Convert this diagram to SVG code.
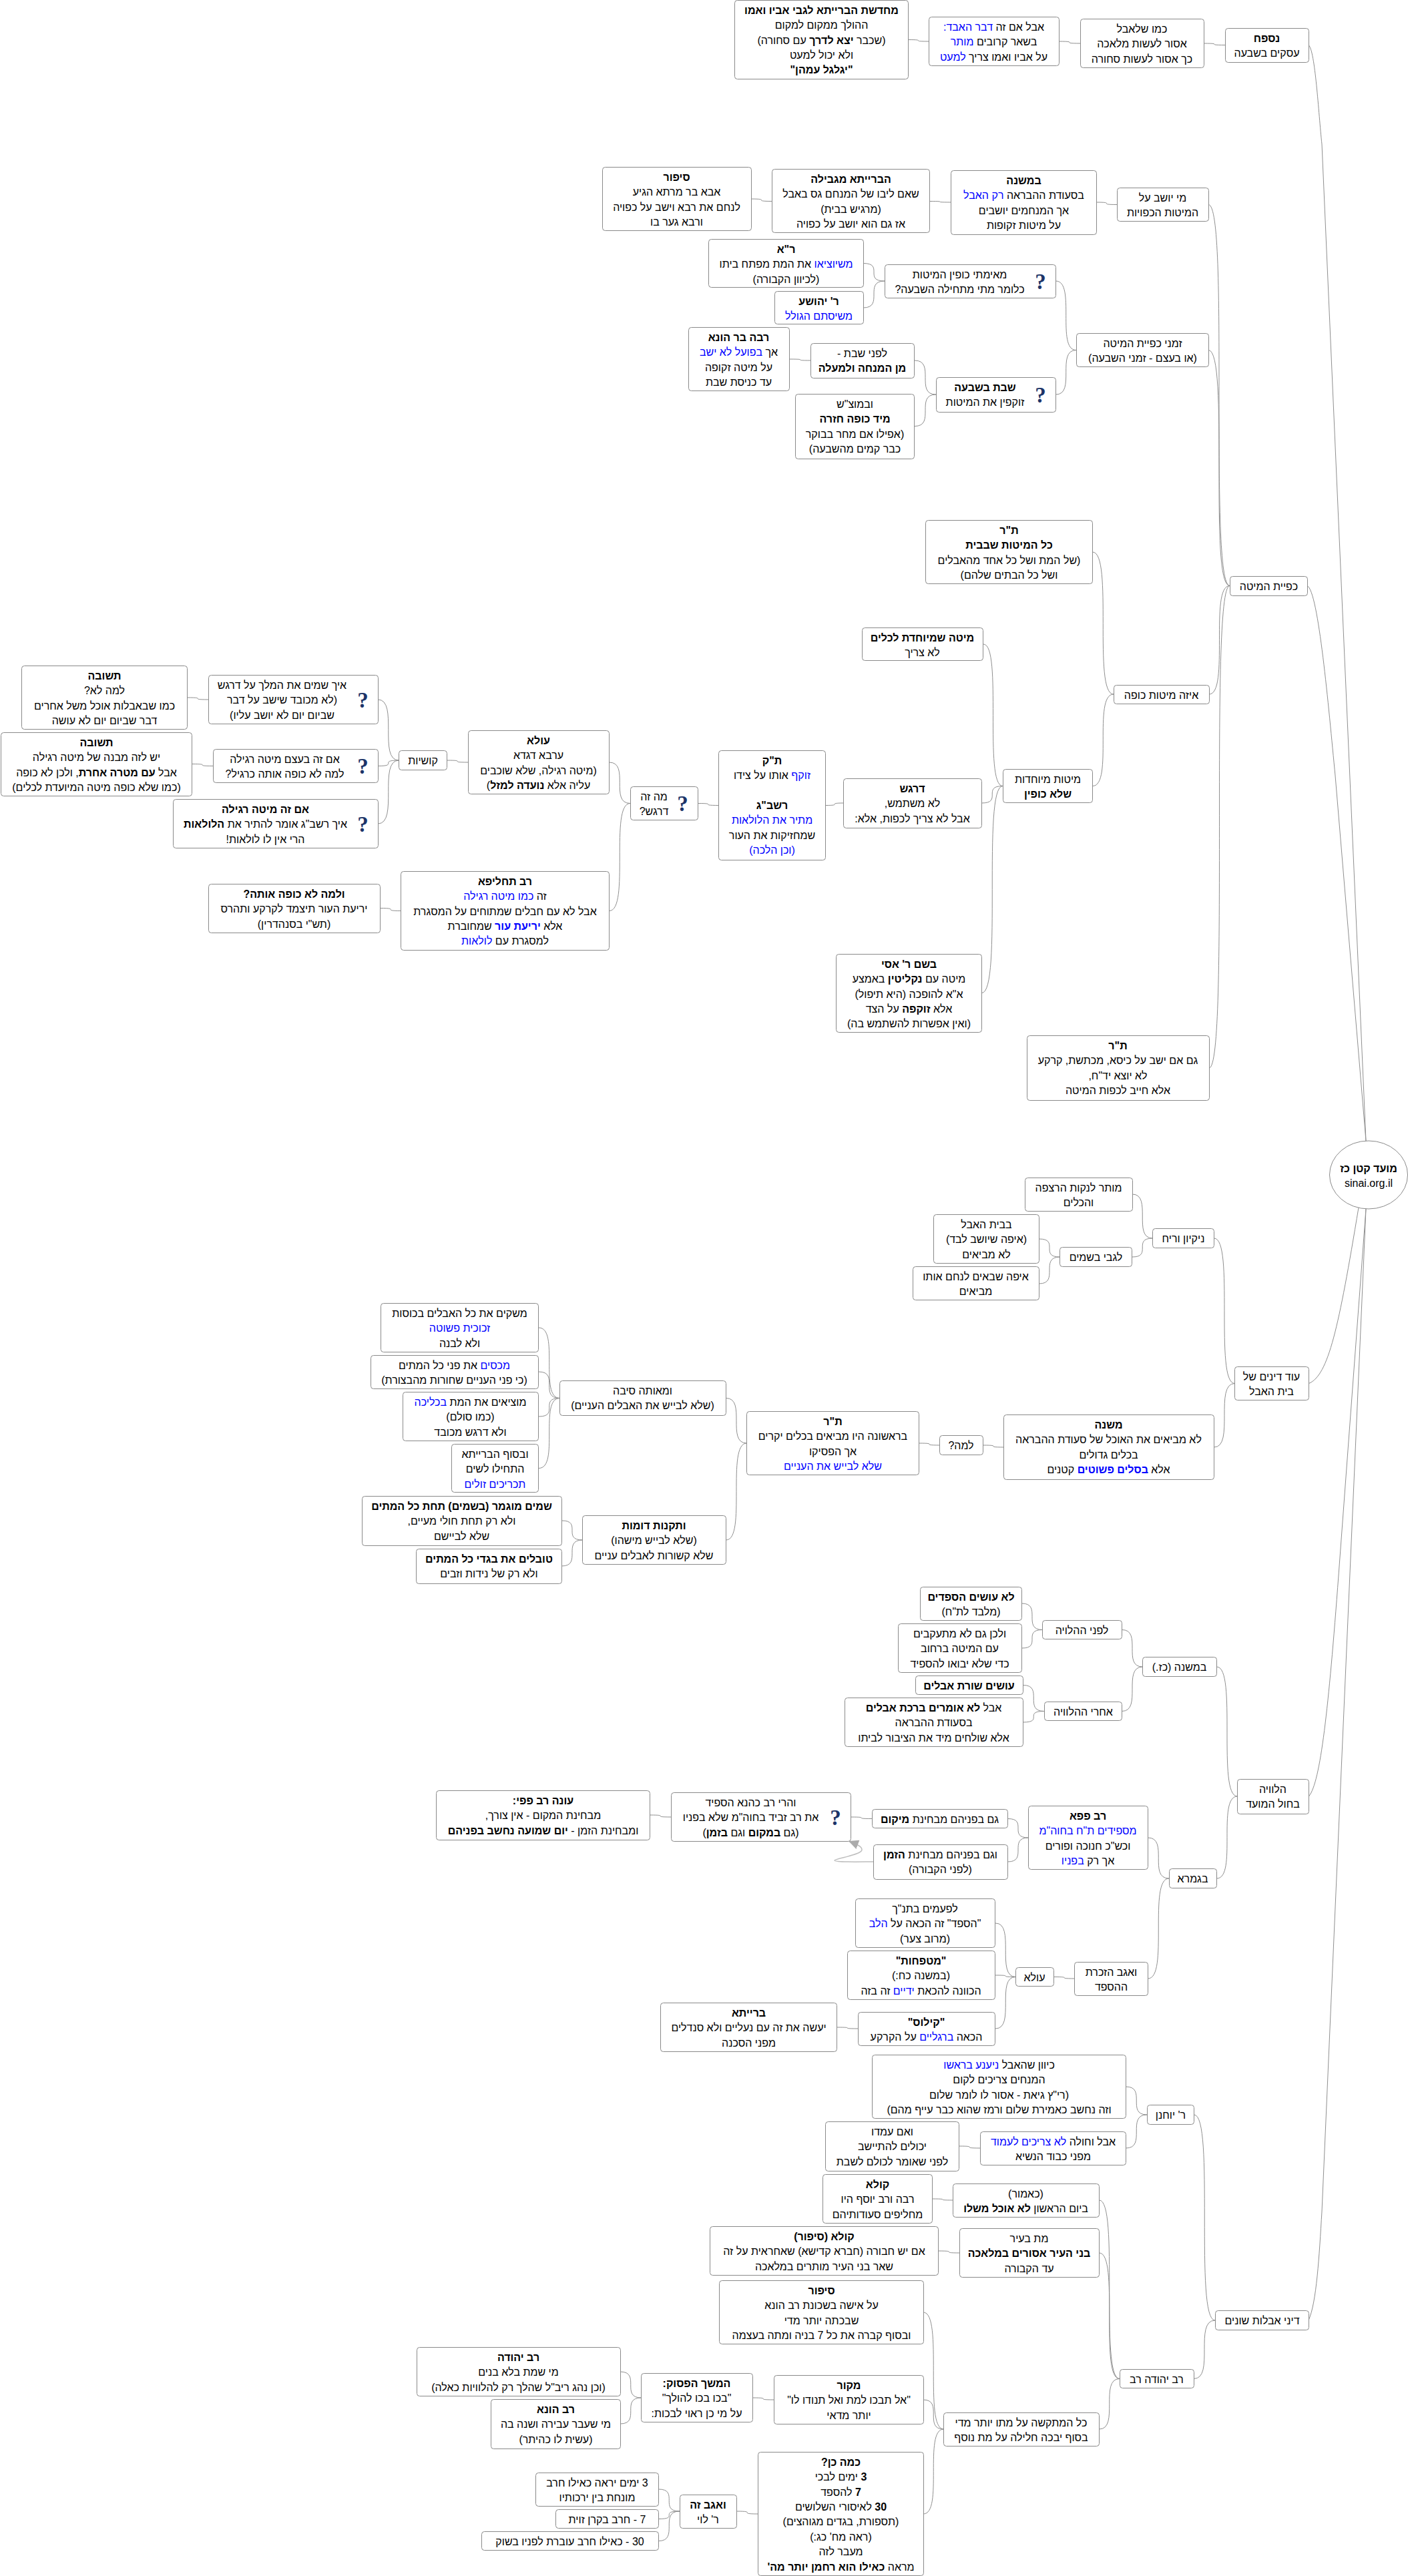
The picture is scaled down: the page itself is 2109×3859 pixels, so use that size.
<svg xmlns="http://www.w3.org/2000/svg" width="2109" height="3859" viewBox="0 0 2109 3859">
<style>
rect.n,ellipse.n{fill:#fff;stroke:#8a8a8a;stroke-width:1}
#connectors path{fill:none;stroke:#8f8f8f;stroke-width:1}
#connectors path.x{stroke:#bdbdbd;stroke-width:1.5}
text{font-family:"Liberation Sans",Arial,sans-serif;font-size:16px;fill:#000;text-anchor:middle;direction:rtl}
.b{font-weight:bold}
.u{fill:#0000ff}
text.q{font-family:"Liberation Serif",serif;font-weight:bold;font-size:33px;fill:#1c3468;direction:ltr}
</style>
<defs>
<marker id="ah" markerUnits="userSpaceOnUse" markerWidth="15" markerHeight="15" viewBox="0 0 15 14" refX="15" refY="7" orient="auto"><path d="M0 0L15 7L0 14Z" fill="#ababab"/></marker>
</defs>
<rect width="2109" height="3859" fill="#fff"/>
<g id="connectors">
<path d="M1960 67.5C1970 75 1975 170 1980 216L2046 1709"/>
<path d="M1958 877.5C1975 885 1990 1060 2000 1162L2046 1709"/>
<path d="M1960.5 2072.5C1990 2060 2005 1990 2035 1809"/>
<path d="M1960.5 2691C1978 2670 1990 2560 2005 2360L2046 1811"/>
<path d="M1960 3476C1972 3450 1976 3380 1980 3313L2046 1811"/>
<path d="M1360 59.5C1391 59.5 1360 62 1391 62"/>
<path d="M1586 62C1618 62 1586 65 1618 65"/>
<path d="M1803 65C1835 65 1803 67.5 1835 67.5"/>
<path d="M1810 306.5C1842 306.5 1810 877.5 1842 877.5"/>
<path d="M1642 303C1673 303 1642 306.5 1673 306.5"/>
<path d="M1392 301.5C1424 301.5 1392 303 1424 303"/>
<path d="M1125 298C1156 298 1125 301.5 1156 301.5"/>
<path d="M1810 524.5C1842 524.5 1810 877.5 1842 877.5"/>
<path d="M1581.5 421C1612 421 1581.5 524.5 1612 524.5"/>
<path d="M1293 394.5C1325 394.5 1293 421 1325 421"/>
<path d="M1293 461C1325 461 1293 421 1325 421"/>
<path d="M1581.5 591C1612 591 1581.5 524.5 1612 524.5"/>
<path d="M1370 540C1402 540 1370 591 1402 591"/>
<path d="M1183 538C1214.5 538 1183 540 1214.5 540"/>
<path d="M1370 638.5C1402 638.5 1370 591 1402 591"/>
<path d="M1811 1040C1842 1040 1811 877.5 1842 877.5"/>
<path d="M1636.5 827C1668 827 1636.5 1040 1668 1040"/>
<path d="M1636.5 1177.5C1668 1177.5 1636.5 1040 1668 1040"/>
<path d="M1473 965C1502 965 1473 1177.5 1502 1177.5"/>
<path d="M1470.5 1203C1502 1203 1470.5 1177.5 1502 1177.5"/>
<path d="M1237 1206.5C1263.5 1206.5 1237 1203 1263.5 1203"/>
<path d="M1045 1203.5C1076.5 1203.5 1045 1206.5 1076.5 1206.5"/>
<path d="M912.5 1142C944 1142 912.5 1203.5 944 1203.5"/>
<path d="M669.5 1139C701 1139 669.5 1142 701 1142"/>
<path d="M566 1048C597.5 1048 566 1139 597.5 1139"/>
<path d="M280.5 1045C312 1045 280.5 1048 312 1048"/>
<path d="M566 1147.5C597.5 1147.5 566 1139 597.5 1139"/>
<path d="M287.5 1144.5C319 1144.5 287.5 1147.5 319 1147.5"/>
<path d="M566 1234C597.5 1234 566 1139 597.5 1139"/>
<path d="M912.5 1364.5C944 1364.5 912.5 1203.5 944 1203.5"/>
<path d="M569.5 1360.5C601 1360.5 569.5 1364.5 601 1364.5"/>
<path d="M1470.5 1487.5C1502 1487.5 1470.5 1177.5 1502 1177.5"/>
<path d="M1811 1600C1842 1600 1811 877.5 1842 877.5"/>
<path d="M1818.5 1855C1849.5 1855 1818.5 2072.5 1849.5 2072.5"/>
<path d="M1696 1789C1726.5 1789 1696 1855 1726.5 1855"/>
<path d="M1696 1883C1726.5 1883 1696 1855 1726.5 1855"/>
<path d="M1556.5 1856C1587.5 1856 1556.5 1883 1587.5 1883"/>
<path d="M1556.5 1923C1587.5 1923 1556.5 1883 1587.5 1883"/>
<path d="M1818.5 2168C1849.5 2168 1818.5 2072.5 1849.5 2072.5"/>
<path d="M1472.5 2165C1503.5 2165 1472.5 2168 1503.5 2168"/>
<path d="M1376.5 2162C1407.5 2162 1376.5 2165 1407.5 2165"/>
<path d="M1087.5 2094.5C1118.5 2094.5 1087.5 2162 1118.5 2162"/>
<path d="M807 1989C838.5 1989 807 2094.5 838.5 2094.5"/>
<path d="M807 2055C838.5 2055 807 2094.5 838.5 2094.5"/>
<path d="M807 2122C838.5 2122 807 2094.5 838.5 2094.5"/>
<path d="M807 2199.5C838.5 2199.5 807 2094.5 838.5 2094.5"/>
<path d="M1087.5 2307C1118.5 2307 1087.5 2162 1118.5 2162"/>
<path d="M841.5 2278C872.5 2278 841.5 2307 872.5 2307"/>
<path d="M841.5 2346C872.5 2346 841.5 2307 872.5 2307"/>
<path d="M1822.5 2497C1853.5 2497 1822.5 2691 1853.5 2691"/>
<path d="M1680.5 2441.5C1711.5 2441.5 1680.5 2497 1711.5 2497"/>
<path d="M1530.5 2402C1561.5 2402 1530.5 2441.5 1561.5 2441.5"/>
<path d="M1530.5 2469C1561.5 2469 1530.5 2441.5 1561.5 2441.5"/>
<path d="M1680.5 2563.5C1711.5 2563.5 1680.5 2497 1711.5 2497"/>
<path d="M1532.5 2524.5C1564 2524.5 1532.5 2563.5 1564 2563.5"/>
<path d="M1532.5 2580C1564 2580 1532.5 2563.5 1564 2563.5"/>
<path d="M1822.5 2814C1853.5 2814 1822.5 2691 1853.5 2691"/>
<path d="M1719.5 2753C1751 2753 1719.5 2814 1751 2814"/>
<path d="M1509.5 2724.5C1540.5 2724.5 1509.5 2753 1540.5 2753"/>
<path d="M1509.5 2789C1540.5 2789 1509.5 2753 1540.5 2753"/>
<path d="M1274.5 2722C1306 2722 1274.5 2724.5 1306 2724.5"/>
<path d="M973.5 2719C1005 2719 973.5 2722 1005 2722"/>
<path class="x" marker-end="url(#ah)" d="M1308.5 2789C1290 2789 1250 2790 1250 2787C1250 2784 1291 2779 1291 2771C1291 2766 1284 2763 1271 2758"/>
<path d="M1719.5 2964C1751 2964 1719.5 2814 1751 2814"/>
<path d="M1579 2961.5C1609.5 2961.5 1579 2964 1609.5 2964"/>
<path d="M1491 2881C1521.5 2881 1491 2961.5 1521.5 2961.5"/>
<path d="M1491 2959C1521.5 2959 1491 2961.5 1521.5 2961.5"/>
<path d="M1491 3039C1521.5 3039 1491 2961.5 1521.5 2961.5"/>
<path d="M1253.5 3037C1285 3037 1253.5 3039 1285 3039"/>
<path d="M1788.5 3168C1820 3168 1788.5 3476 1820 3476"/>
<path d="M1686.5 3126C1718 3126 1686.5 3168 1718 3168"/>
<path d="M1686.5 3218C1718 3218 1686.5 3168 1718 3168"/>
<path d="M1436.5 3215C1468 3215 1436.5 3218 1468 3218"/>
<path d="M1788 3563.5C1820 3563.5 1788 3476 1820 3476"/>
<path d="M1646.5 3296C1677 3296 1646.5 3563.5 1677 3563.5"/>
<path d="M1396.5 3294C1427.5 3294 1396.5 3296 1427.5 3296"/>
<path d="M1646.5 3375C1677 3375 1646.5 3563.5 1677 3563.5"/>
<path d="M1405.5 3372C1437.5 3372 1405.5 3375 1437.5 3375"/>
<path d="M1646.5 3639C1677 3639 1646.5 3563.5 1677 3563.5"/>
<path d="M1383 3464C1413.5 3464 1383 3639 1413.5 3639"/>
<path d="M1383 3595C1413.5 3595 1383 3639 1413.5 3639"/>
<path d="M1383 3766C1413.5 3766 1383 3639 1413.5 3639"/>
<path d="M1127.5 3592C1159 3592 1127.5 3595 1159 3595"/>
<path d="M929 3553C960.5 3553 929 3592 960.5 3592"/>
<path d="M929 3631C960.5 3631 929 3592 960.5 3592"/>
<path d="M1103.5 3762C1135 3762 1103.5 3766 1135 3766"/>
<path d="M986.5 3729C1018 3729 986.5 3762 1018 3762"/>
<path d="M986.5 3773.5C1018 3773.5 986.5 3762 1018 3762"/>
<path d="M986.5 3806.5C1018 3806.5 986.5 3762 1018 3762"/>
</g>

<g id="root"><ellipse class="n" cx="2050" cy="1760" rx="58.5" ry="51"/><text x="2050" y="1756" class="b">מועד קטן כז</text><text x="2050" y="1778" style="direction:ltr">sinai.org.il</text></g>

<g id="n1" transform="translate(1835.5,42.5)"><rect class="n" width="125" height="51" rx="4"/><text x="62" y="20.3" class="b">נספח</text><text x="62" y="42.7">עסקים בשבעה</text></g>
<g id="n2" transform="translate(1618.5,28.5)"><rect class="n" width="185" height="73" rx="4"/><text x="92" y="20.3">כמו שלאבל</text><text x="92" y="42.7">אסור לעשות מלאכה</text><text x="92" y="65.1">כך אסור לעשות סחורה</text></g>
<g id="n3" transform="translate(1391.5,25.5)"><rect class="n" width="195" height="73" rx="4"/><text x="97" y="20.3">אבל אם זה <tspan class="u">דבר האבד:</tspan></text><text x="97" y="42.7">בשאר קרובים <tspan class="u">מותר</tspan></text><text x="97" y="65.1">על אביו ואמו צריך <tspan class="u">למעט</tspan></text></g>
<g id="n4" transform="translate(1100.5,0.5)"><rect class="n" width="260" height="118" rx="4"/><text x="130" y="20.3" class="b">מחדשת הברייתא לגבי אביו ואמו</text><text x="130" y="42.7">ההולך ממקום למקום</text><text x="130" y="65.1">(שכבר <tspan class="b">יצא לדרך</tspan> עם סחורה)</text><text x="130" y="87.5">ולא יכול למעט</text><text x="130" y="109.9" class="b">"יגלגל עמהן"</text></g>

<g id="n5" transform="translate(1842.5,863.5)"><rect class="n" width="116" height="29" rx="4"/><text x="58" y="20.3">כפיית המיטה</text></g>
<g id="n6" transform="translate(1673.5,281.5)"><rect class="n" width="137" height="50" rx="4"/><text x="68" y="20.3">מי יושב על</text><text x="68" y="42.7">המיטות הכפויות</text></g>
<g id="n7" transform="translate(1424.5,255.5)"><rect class="n" width="218" height="96" rx="4"/><text x="109" y="20.3" class="b">במשנה</text><text x="109" y="42.7">בסעודת ההבראה <tspan class="u">רק האבל</tspan></text><text x="109" y="65.1">אך המנחמים יושבים</text><text x="109" y="87.5">על מיטות זקופות</text></g>
<g id="n8" transform="translate(1156.5,253.5)"><rect class="n" width="236" height="95" rx="4"/><text x="118" y="20.3" class="b">הברייתא מגבילה</text><text x="118" y="42.7">שאם ליבו של המנחם גס באבל</text><text x="118" y="65.1">(מרגיש בבית)</text><text x="118" y="87.5">אז גם הוא יושב על כפויה</text></g>
<g id="n9" transform="translate(902.5,250.5)"><rect class="n" width="223" height="95" rx="4"/><text x="111" y="20.3" class="b">סיפור</text><text x="111" y="42.7">אבא בר מרתא הגיע</text><text x="111" y="65.1">לנחם את רבא וישב על כפויה</text><text x="111" y="87.5">ורבא גער בו</text></g>
<g id="n10" transform="translate(1612.5,499.5)"><rect class="n" width="198" height="50" rx="4"/><text x="99" y="20.3">זמני כפיית המיטה</text><text x="99" y="42.7">(או בעצם - זמני השבעה)</text></g>
<g id="n11" transform="translate(1325.5,396.5)"><rect class="n" width="256" height="50" rx="4"/><text x="112" y="20.3">מאימתי כופין המיטות</text><text x="112" y="42.7">כלומר מתי מתחילה השבעה?</text><text class="q" x="233" y="36">?</text></g>
<g id="n12" transform="translate(1061.5,358.5)"><rect class="n" width="232" height="72" rx="4"/><text x="116" y="20.3" class="b">ר"א</text><text x="116" y="42.7"><tspan class="u">משיוציאו</tspan> את המת מפתח ביתו</text><text x="116" y="65.1">(לכיוון הקבורה)</text></g>
<g id="n13" transform="translate(1160.5,436.5)"><rect class="n" width="133" height="49" rx="4"/><text x="66" y="20.3" class="b">ר' יהושע</text><text x="66" y="42.7" class="u">משיסתם הגולל</text></g>
<g id="n14" transform="translate(1402.5,565.5)"><rect class="n" width="179" height="52" rx="4"/><text x="73" y="20.3" class="b">שבת בשבעה</text><text x="73" y="42.7">זוקפין את המיטות</text><text class="q" x="156" y="37">?</text></g>
<g id="n15" transform="translate(1214.5,514.5)"><rect class="n" width="155" height="52" rx="4"/><text x="77" y="20.3">לפני שבת -</text><text x="77" y="42.7" class="b">מן המנחה ולמעלה</text></g>
<g id="n16" transform="translate(1031.5,490.5)"><rect class="n" width="151" height="95" rx="4"/><text x="75" y="20.3" class="b">רבה בר הונא</text><text x="75" y="42.7">אך <tspan class="u">בפועל לא ישב</tspan></text><text x="75" y="65.1">על מיטה זקופה</text><text x="75" y="87.5">עד כניסת שבת</text></g>
<g id="n17" transform="translate(1191.5,590.5)"><rect class="n" width="178" height="97" rx="4"/><text x="89" y="20.3">ובמוצ"ש</text><text x="89" y="42.7" class="b">מיד כופה חזרה</text><text x="89" y="65.1">(אפילו אם מחר בבוקר</text><text x="89" y="87.5">כבר קמים מהשבעה)</text></g>
<g id="n18" transform="translate(1668.5,1026.5)"><rect class="n" width="143" height="28" rx="4"/><text x="71" y="20">איזה מיטות כופה</text></g>
<g id="n19" transform="translate(1386.5,779.5)"><rect class="n" width="250" height="95" rx="4"/><text x="125" y="20.3" class="b">ת"ר</text><text x="125" y="42.7" class="b">כל המיטות שבבית</text><text x="125" y="65.1">(של המת ושל כל אחד מהאבלים</text><text x="125" y="87.5">ושל כל הבתים שלהם)</text></g>
<g id="n20" transform="translate(1502.5,1152.5)"><rect class="n" width="134" height="50" rx="4"/><text x="67" y="20.3">מיטות מיוחדות</text><text x="67" y="42.7" class="b">שלא כופין</text></g>
<g id="n21" transform="translate(1291.5,940.5)"><rect class="n" width="181" height="49" rx="4"/><text x="90" y="20.3" class="b">מיטה שמיוחדת לכלים</text><text x="90" y="42.7">לא צריך</text></g>
<g id="n22" transform="translate(1263.5,1166.5)"><rect class="n" width="207" height="74" rx="4"/><text x="103" y="20.3" class="b">דרגש</text><text x="103" y="42.7">לא משתמש,</text><text x="103" y="65.1">אבל לא צריך לכפות, אלא:</text></g>
<g id="n23" transform="translate(1076.5,1124.5)"><rect class="n" width="160" height="164" rx="4"/><text x="80" y="20.3" class="b">ת"ק</text><text x="80" y="42.7"><tspan class="u">זוקף</tspan> אותו על צידו</text><text x="80" y="87.5" class="b">רשב"ג</text><text x="80" y="109.9" class="u">מתיר את הלולאות</text><text x="80" y="132.3">שמחזיקות את העור</text><text x="80" y="154.7" class="u">(וכן הלכה)</text></g>
<g id="n24" transform="translate(944.5,1178.5)"><rect class="n" width="101" height="50" rx="4"/><text x="35" y="20.3">מה זה</text><text x="35" y="42.7">דרגש?</text><text class="q" x="78" y="36">?</text></g>
<g id="n25" transform="translate(701.5,1094.5)"><rect class="n" width="211" height="95" rx="4"/><text x="105" y="20.3" class="b">עולא</text><text x="105" y="42.7">ערבא דגדא</text><text x="105" y="65.1">(מיטה רגילה, שלא שוכבים</text><text x="105" y="87.5">עליה אלא <tspan class="b">נועדה למזל</tspan>)</text></g>
<g id="n26" transform="translate(597.5,1124.5)"><rect class="n" width="72" height="29" rx="4"/><text x="36" y="20.3">קושיות</text></g>
<g id="n27" transform="translate(312.5,1011.5)"><rect class="n" width="254" height="73" rx="4"/><text x="110" y="20.3">איך שמים את המלך על דרגש</text><text x="110" y="42.7">(לא מכובד שישב על דבר</text><text x="110" y="65.1">שביום יום לא יושב עליו)</text><text class="q" x="231" y="48">?</text></g>
<g id="n28" transform="translate(32.5,997.5)"><rect class="n" width="248" height="95" rx="4"/><text x="124" y="20.3" class="b">תשובה</text><text x="124" y="42.7">למה לא?</text><text x="124" y="65.1">כמו שבאבלות אוכל משל אחרים</text><text x="124" y="87.5">דבר שביום יום לא עושה</text></g>
<g id="n29" transform="translate(319.5,1122.5)"><rect class="n" width="247" height="50" rx="4"/><text x="107" y="20.3">אם זה בעצם מיטה רגילה</text><text x="107" y="42.7">למה לא כופה אותה כרגיל?</text><text class="q" x="224" y="36">?</text></g>
<g id="n30" transform="translate(1.5,1097.5)"><rect class="n" width="286" height="95" rx="4"/><text x="143" y="20.3" class="b">תשובה</text><text x="143" y="42.7">יש לזה מבנה של מיטה רגילה</text><text x="143" y="65.1">אבל <tspan class="b">עם מטרה אחרת</tspan>, ולכן לא כופה</text><text x="143" y="87.5">(כמו שלא כופה מיטה המיועדת לכלים)</text></g>
<g id="n31" transform="translate(259.5,1197.5)"><rect class="n" width="307" height="73" rx="4"/><text x="138" y="20.3" class="b">אם זה מיטה רגילה</text><text x="138" y="42.7">איך רשב"ג אומר להתיר את <tspan class="b">הלולאות</tspan></text><text x="138" y="65.1">הרי אין לו לולאות!</text><text class="q" x="284" y="48">?</text></g>
<g id="n32" transform="translate(600.5,1305.5)"><rect class="n" width="312" height="118" rx="4"/><text x="156" y="20.3" class="b">רב תחליפא</text><text x="156" y="42.7">זה <tspan class="u">כמו מיטה רגילה</tspan></text><text x="156" y="65.1">אבל לא עם חבלים שמתוחים על המסגרת</text><text x="156" y="87.5">אלא <tspan class="u b">יריעת עור</tspan> שמחוברת</text><text x="156" y="109.9">למסגרת עם <tspan class="u">לולאות</tspan></text></g>
<g id="n33" transform="translate(312.5,1324.5)"><rect class="n" width="257" height="73" rx="4"/><text x="128" y="20.3" class="b">ולמה לא כופה אותה?</text><text x="128" y="42.7">יריעת העור תיצמד לקרקע ותהרס</text><text x="128" y="65.1">(תש"י בסנהדרין)</text></g>
<g id="n34" transform="translate(1252.5,1429.5)"><rect class="n" width="218" height="117" rx="4"/><text x="109" y="20.3" class="b">בשם ר' אסי</text><text x="109" y="42.7">מיטה עם <tspan class="b">נקליטין</tspan> באמצע</text><text x="109" y="65.1">א"א להופכה (היא תיפול)</text><text x="109" y="87.5">אלא <tspan class="b">זוקפה</tspan> על הצד</text><text x="109" y="109.9">(ואין אפשרות להשתמש בה)</text></g>
<g id="n35" transform="translate(1538.5,1551.5)"><rect class="n" width="273" height="97" rx="4"/><text x="136" y="20.3" class="b">ת"ר</text><text x="136" y="42.7">גם אם ישב על כיסא, מכתשת, קרקע</text><text x="136" y="65.1">לא יוצא יד"ח,</text><text x="136" y="87.5">אלא חייב לכפות המיטה</text></g>

<g id="n36" transform="translate(1849.5,2047.5)"><rect class="n" width="111" height="50" rx="4"/><text x="55" y="20.3">עוד דינים של</text><text x="55" y="42.7">בית האבל</text></g>
<g id="n37" transform="translate(1726.5,1840.5)"><rect class="n" width="92" height="29" rx="4"/><text x="46" y="20.3">ניקיון וריח</text></g>
<g id="n38" transform="translate(1535.5,1764.5)"><rect class="n" width="161" height="50" rx="4"/><text x="80" y="20.3">מותר לנקות הרצפה</text><text x="80" y="42.7">והכלים</text></g>
<g id="n39" transform="translate(1587.5,1868.5)"><rect class="n" width="108" height="29" rx="4"/><text x="54" y="20.3">לגבי בשמים</text></g>
<g id="n40" transform="translate(1398.5,1819.5)"><rect class="n" width="158" height="73" rx="4"/><text x="79" y="20.3">בבית האבל</text><text x="79" y="42.7">(איפה שיושב לבד)</text><text x="79" y="65.1">לא מביאים</text></g>
<g id="n41" transform="translate(1367.5,1897.5)"><rect class="n" width="189" height="50" rx="4"/><text x="94" y="20.3">איפה שבאים לנחם אותו</text><text x="94" y="42.7">מביאים</text></g>
<g id="n42" transform="translate(1503.5,2119.5)"><rect class="n" width="315" height="97" rx="4"/><text x="157" y="20.3" class="b">משנה</text><text x="157" y="42.7">לא מביאים את האוכל של סעודת ההבראה</text><text x="157" y="65.1">בכלים גדולים</text><text x="157" y="87.5">אלא <tspan class="u b">בסלים פשוטים</tspan> קטנים</text></g>
<g id="n43" transform="translate(1407.5,2150.5)"><rect class="n" width="65" height="29" rx="4"/><text x="32" y="20.3">למה?</text></g>
<g id="n44" transform="translate(1118.5,2114.5)"><rect class="n" width="258" height="95" rx="4"/><text x="129" y="20.3" class="b">ת"ר</text><text x="129" y="42.7">בראשונה היו מביאים בכלים יקרים</text><text x="129" y="65.1">אך הפסיקו</text><text x="129" y="87.5" class="u">שלא לבייש את העניים</text></g>
<g id="n45" transform="translate(838.5,2068.5)"><rect class="n" width="249" height="52" rx="4"/><text x="124" y="20.3">ומאותה סיבה</text><text x="124" y="42.7">(שלא לבייש את האבלים העניים)</text></g>
<g id="n46" transform="translate(570.5,1952.5)"><rect class="n" width="236" height="73" rx="4"/><text x="118" y="20.3">משקים את כל האבלים בכוסות</text><text x="118" y="42.7" class="u">זכוכית פשוטה</text><text x="118" y="65.1">ולא לבנה</text></g>
<g id="n47" transform="translate(555.5,2030.5)"><rect class="n" width="251" height="50" rx="4"/><text x="125" y="20.3"><tspan class="u">מכסים</tspan> את פני כל המתים</text><text x="125" y="42.7">(כי פני העניים שחורות מהבצורת)</text></g>
<g id="n48" transform="translate(603.5,2085.5)"><rect class="n" width="203" height="73" rx="4"/><text x="101" y="20.3">מוציאים את המת <tspan class="u">בכליכה</tspan></text><text x="101" y="42.7">(כמו סולם)</text><text x="101" y="65.1">ולא דרגש מכובד</text></g>
<g id="n49" transform="translate(676.5,2163.5)"><rect class="n" width="130" height="72" rx="4"/><text x="65" y="20.3">ובסוף הברייתא</text><text x="65" y="42.7">התחילו לשים</text><text x="65" y="65.1" class="u">תכריכים זולים</text></g>
<g id="n50" transform="translate(872.5,2270.5)"><rect class="n" width="215" height="73" rx="4"/><text x="107" y="20.3" class="b">ותקנות דומות</text><text x="107" y="42.7">(שלא לבייש מישהו)</text><text x="107" y="65.1">שלא קשורות לאבלים עניים</text></g>
<g id="n51" transform="translate(542.5,2241.5)"><rect class="n" width="299" height="74" rx="4"/><text x="149" y="20.3" class="b">שמים מוגמר (בשמים) תחת כל המתים</text><text x="149" y="42.7">ולא רק תחת חולי מעיים,</text><text x="149" y="65.1">שלא לביישם</text></g>
<g id="n52" transform="translate(623.5,2320.5)"><rect class="n" width="218" height="52" rx="4"/><text x="109" y="20.3" class="b">טובלים את בגדי כל המתים</text><text x="109" y="42.7">ולא רק של נידות וזבים</text></g>

<g id="n53" transform="translate(1853.5,2665.5)"><rect class="n" width="107" height="52" rx="4"/><text x="53" y="20.3">הלוויה</text><text x="53" y="42.7">בחול המועד</text></g>
<g id="n54" transform="translate(1711.5,2482.5)"><rect class="n" width="111" height="29" rx="4"/><text x="55" y="20.3">במשנה (כז.)</text></g>
<g id="n55" transform="translate(1561.5,2427.5)"><rect class="n" width="119" height="28" rx="4"/><text x="59" y="20">לפני ההלויה</text></g>
<g id="n56" transform="translate(1378.5,2377.5)"><rect class="n" width="152" height="50" rx="4"/><text x="76" y="20.3" class="b">לא עושים הספדים</text><text x="76" y="42.7">(מלבד לת"ח)</text></g>
<g id="n57" transform="translate(1345.5,2432.5)"><rect class="n" width="185" height="73" rx="4"/><text x="92" y="20.3">ולכן גם לא מתעקבים</text><text x="92" y="42.7">עם המיטה ברחוב</text><text x="92" y="65.1">כדי שלא יבואו להספיד</text></g>
<g id="n58" transform="translate(1564.5,2549.5)"><rect class="n" width="116" height="28" rx="4"/><text x="58" y="20">אחרי ההלוויה</text></g>
<g id="n59" transform="translate(1371.5,2510.5)"><rect class="n" width="161" height="28" rx="4"/><text x="80" y="20" class="b">עושים שורת אבלים</text></g>
<g id="n60" transform="translate(1265.5,2543.5)"><rect class="n" width="267" height="73" rx="4"/><text x="133" y="20.3">אבל <tspan class="b">לא אומרים ברכת אבלים</tspan></text><text x="133" y="42.7">בסעודת ההבראה</text><text x="133" y="65.1">אלא שולחים מיד את הציבור לביתו</text></g>
<g id="n61" transform="translate(1751.5,2799.5)"><rect class="n" width="71" height="29" rx="4"/><text x="35" y="20.3">בגמרא</text></g>
<g id="n62" transform="translate(1540.5,2705.5)"><rect class="n" width="179" height="95" rx="4"/><text x="89" y="20.3" class="b">רב פפא</text><text x="89" y="42.7" class="u">מספידים ת"ח בחוה"מ</text><text x="89" y="65.1">וכש"כ חנוכה ופורים</text><text x="89" y="87.5">אך רק <tspan class="u">בפניו</tspan></text></g>
<g id="n63" transform="translate(1306.5,2710.5)"><rect class="n" width="203" height="28" rx="4"/><text x="101" y="20">גם בפניהם מבחינת <tspan class="b">מיקום</tspan></text></g>
<g id="n64" transform="translate(1308.5,2763.5)"><rect class="n" width="201" height="52" rx="4"/><text x="100" y="20.3">וגם בפניהם מבחינת <tspan class="b">הזמן</tspan></text><text x="100" y="42.7">(לפני הקבורה)</text></g>
<g id="n65" transform="translate(1005.5,2685.5)"><rect class="n" width="269" height="73" rx="4"/><text x="119" y="20.3">והרי רב כהנא הספיד</text><text x="119" y="42.7">את רב זביד בחוה"מ שלא בפניו</text><text x="119" y="65.1">(גם <tspan class="b">במקום</tspan> וגם <tspan class="b">בזמן</tspan>)</text><text class="q" x="246" y="48">?</text></g>
<g id="n66" transform="translate(653.5,2682.5)"><rect class="n" width="320" height="74" rx="4"/><text x="160" y="20.3" class="b">עונה רב פפי:</text><text x="160" y="42.7">מבחינת המקום - אין צורך,</text><text x="160" y="65.1">ומבחינת הזמן - <tspan class="b">יום שמועה נחשב בפניהם</tspan></text></g>
<g id="n67" transform="translate(1609.5,2939.5)"><rect class="n" width="110" height="50" rx="4"/><text x="55" y="20.3">ואגב הזכרת</text><text x="55" y="42.7">ההספד</text></g>
<g id="n68" transform="translate(1521.5,2947.5)"><rect class="n" width="57" height="28" rx="4"/><text x="28" y="20">עולא</text></g>
<g id="n69" transform="translate(1281.5,2844.5)"><rect class="n" width="209" height="73" rx="4"/><text x="104" y="20.3">לפעמים בתנ"ך</text><text x="104" y="42.7">"הספד" זה הכאה על <tspan class="u">הלב</tspan></text><text x="104" y="65.1">(מרוב צער)</text></g>
<g id="n70" transform="translate(1269.5,2922.5)"><rect class="n" width="221" height="73" rx="4"/><text x="110" y="20.3" class="b">"מטפחות"</text><text x="110" y="42.7">(במשנה כח:)</text><text x="110" y="65.1">הכוונה להכאת <tspan class="u">ידיים</tspan> זה בזה</text></g>
<g id="n71" transform="translate(1285.5,3014.5)"><rect class="n" width="205" height="50" rx="4"/><text x="102" y="20.3" class="b">"קילוס"</text><text x="102" y="42.7">הכאה <tspan class="u">ברגליים</tspan> על הקרקע</text></g>
<g id="n72" transform="translate(989.5,3000.5)"><rect class="n" width="264" height="73" rx="4"/><text x="132" y="20.3" class="b">ברייתא</text><text x="132" y="42.7">יעשה את זה עם נעליים ולא סנדלים</text><text x="132" y="65.1">מפני הסכנה</text></g>

<g id="n73" transform="translate(1820.5,3461.5)"><rect class="n" width="140" height="29" rx="4"/><text x="70" y="20.3">דיני אבלות שונים</text></g>
<g id="n74" transform="translate(1718.5,3153.5)"><rect class="n" width="70" height="29" rx="4"/><text x="35" y="20.3">ר' יוחנן</text></g>
<g id="n75" transform="translate(1306.5,3078.5)"><rect class="n" width="380" height="95" rx="4"/><text x="190" y="20.3">כיוון שהאבל <tspan class="u">ניענע בראשו</tspan></text><text x="190" y="42.7">המנחים צריכים לקום</text><text x="190" y="65.1">(רי"ץ גיאת - אסור לו לומר שלום</text><text x="190" y="87.5">וזה נחשב כאמירת שלום ורמז שהוא כבר עייף מהם)</text></g>
<g id="n76" transform="translate(1468.5,3193.5)"><rect class="n" width="218" height="50" rx="4"/><text x="109" y="20.3">אבל וחולה <tspan class="u">לא צריכים לעמוד</tspan></text><text x="109" y="42.7">מפני כבוד הנשיא</text></g>
<g id="n77" transform="translate(1236.5,3178.5)"><rect class="n" width="200" height="74" rx="4"/><text x="100" y="20.3">ואם עמדו</text><text x="100" y="42.7">יכולים להתיישב</text><text x="100" y="65.1">לפני שאומר לכולם לשבת</text></g>
<g id="n78" transform="translate(1677.5,3549.5)"><rect class="n" width="111" height="28" rx="4"/><text x="55" y="20">רב יהודה רב</text></g>
<g id="n79" transform="translate(1427.5,3271.5)"><rect class="n" width="219" height="50" rx="4"/><text x="109" y="20.3">(כאמור)</text><text x="109" y="42.7">ביום הראשון <tspan class="b">לא אוכל משלו</tspan></text></g>
<g id="n80" transform="translate(1232.5,3257.5)"><rect class="n" width="164" height="73" rx="4"/><text x="82" y="20.3" class="b">קולא</text><text x="82" y="42.7">רבה ורב יוסף היו</text><text x="82" y="65.1">מחליפים סעודותיהם</text></g>
<g id="n81" transform="translate(1437.5,3338.5)"><rect class="n" width="209" height="73" rx="4"/><text x="104" y="20.3">מת בעיר</text><text x="104" y="42.7" class="b">בני העיר אסורים במלאכה</text><text x="104" y="65.1">עד הקבורה</text></g>
<g id="n82" transform="translate(1063.5,3335.5)"><rect class="n" width="342" height="73" rx="4"/><text x="171" y="20.3" class="b">קולא (סיפור)</text><text x="171" y="42.7">אם יש חבורה (חברא קדישא) שאחראית על זה</text><text x="171" y="65.1">שאר בני העיר מותרים במלאכה</text></g>
<g id="n83" transform="translate(1413.5,3614.5)"><rect class="n" width="233" height="50" rx="4"/><text x="116" y="20.3">כל המתקשה על מתו יותר מדי</text><text x="116" y="42.7">בסוף יבכה חלילה על מת נוסף</text></g>
<g id="n84" transform="translate(1077.5,3416.5)"><rect class="n" width="306" height="95" rx="4"/><text x="153" y="20.3" class="b">סיפור</text><text x="153" y="42.7">על אישה בשכונת רב הונא</text><text x="153" y="65.1">שבכתה יותר מדי</text><text x="153" y="87.5">ובסוף קברה את כל 7 בניה ומתה בעצמה</text></g>
<g id="n85" transform="translate(1159.5,3558.5)"><rect class="n" width="224" height="73" rx="4"/><text x="112" y="20.3" class="b">מקור</text><text x="112" y="42.7">"אל תבכו למת ואל תנודו לו"</text><text x="112" y="65.1">יותר מדאי</text></g>
<g id="n86" transform="translate(960.5,3555.5)"><rect class="n" width="167" height="73" rx="4"/><text x="83" y="20.3" class="b">המשך הפסוק:</text><text x="83" y="42.7">"בכו בכו להולך"</text><text x="83" y="65.1">על מי כן ראוי לבכות:</text></g>
<g id="n87" transform="translate(624.5,3516.5)"><rect class="n" width="305" height="73" rx="4"/><text x="152" y="20.3" class="b">רב יהודה</text><text x="152" y="42.7">מי שמת בלא בנים</text><text x="152" y="65.1">(וכן נהג ריב"ל שהלך רק להלוויות כאלה)</text></g>
<g id="n88" transform="translate(735.5,3594.5)"><rect class="n" width="194" height="74" rx="4"/><text x="97" y="20.3" class="b">רב הונא</text><text x="97" y="42.7">מי שעבר עבירה ושנה בה</text><text x="97" y="65.1">(עשית לו כהיתר)</text></g>
<g id="n89" transform="translate(1135.5,3673.5)"><rect class="n" width="248" height="185" rx="4"/><text x="124" y="20.3" class="b">כמה כן?</text><text x="124" y="42.7"><tspan class="b">3</tspan> ימים לבכי</text><text x="124" y="65.1"><tspan class="b">7</tspan> להספד</text><text x="124" y="87.5"><tspan class="b">30</tspan> לאיסורי השלושים</text><text x="124" y="109.9">(תספורת, בגדים מגוהצים)</text><text x="124" y="132.3">(ראה מח' כג:)</text><text x="124" y="154.7">מעבר לזה</text><text x="124" y="177.1">מראה <tspan class="b">כאילו הוא רחמן יותר מה'</tspan></text></g>
<g id="n90" transform="translate(1018.5,3737.5)"><rect class="n" width="85" height="50" rx="4"/><text x="42" y="20.3" class="b">ואגב זה</text><text x="42" y="42.7">ר' לוי</text></g>
<g id="n91" transform="translate(802.5,3704.5)"><rect class="n" width="184" height="50" rx="4"/><text x="92" y="20.3">3 ימים יראה כאילו חרב</text><text x="92" y="42.7">מונחת בין ירכותיו</text></g>
<g id="n92" transform="translate(832.5,3759.5)"><rect class="n" width="154" height="28" rx="4"/><text x="77" y="20">7 - חרב בקרן זוית</text></g>
<g id="n93" transform="translate(721.5,3792.5)"><rect class="n" width="265" height="28" rx="4"/><text x="132" y="20">30 - כאילו חרב עוברת לפניו בשוק</text></g>
</svg>
